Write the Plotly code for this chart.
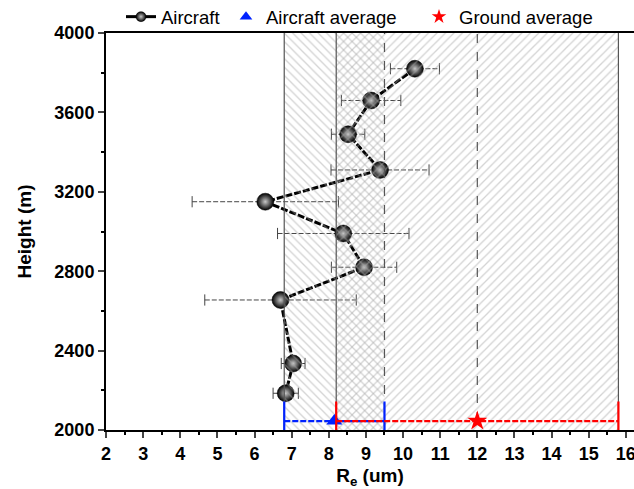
import plotly.graph_objects as go

# ---------------- data ----------------
height = [3820, 3660, 3490, 3310, 3150, 2990, 2820, 2655, 2335, 2185]
re_air = [10.32, 9.14, 8.52, 9.38, 6.29, 8.39, 8.95, 6.70, 7.04, 6.84]
re_err = [0.66, 0.80, 0.45, 1.32, 1.97, 1.77, 0.88, 2.04, 0.32, 0.34]

air_avg = 8.15
air_sd = 1.35
ground_avg = 12.0
ground_sd = 3.8
avg_height = 2045

x_range = [2, 16.22]
y_range = [2000, 4000]
x_ticks = list(range(2, 17))
y_ticks = [2000, 2400, 2800, 3200, 3600, 4000]

FONT = "Liberation Sans"
GRAY = "#555555"

fig = go.Figure()

# error bars of aircraft profile (dashed, with caps)
ex, ey = [], []
for x, y, e in zip(re_air, height, re_err):
    ex += [x - e, x + e, None]
    ey += [y, y, None]
fig.add_trace(go.Scatter(x=ex, y=ey, mode="lines", showlegend=False,
                         line=dict(color="#444444", width=1, dash="5px,2px"),
                         hoverinfo="skip"))
cx = [x - e for x, e in zip(re_air, re_err)] + [x + e for x, e in zip(re_air, re_err)]
cy = height + height
fig.add_trace(go.Scatter(x=cx, y=cy, mode="markers", showlegend=False,
                         marker=dict(symbol="line-ns", size=8, color="#444444",
                                     line=dict(color="#444444", width=1)),
                         hoverinfo="skip"))

# profile line + sphere markers (radial gradient: gradient.color is the centre colour)
fig.add_trace(go.Scatter(x=re_air, y=height, mode="lines+markers", showlegend=False,
                         line=dict(color="black", width=3, dash="7px,2px"),
                         marker=dict(size=17, color="black",
                                     gradient=dict(type="radial", color="#c8c8c8"),
                                     line=dict(width=0.5, color="black"))))
# legend entry for Aircraft
fig.add_trace(go.Scatter(x=[None], y=[None], mode="lines+markers", name="Aircraft",
                         legend="legend",
                         line=dict(color="black", width=3),
                         marker=dict(size=10, color="black",
                                     gradient=dict(type="radial", color="#c8c8c8"),
                                     line=dict(width=0.5, color="black"))))

# hatched bands
air_lo, air_hi = air_avg - air_sd, air_avg + air_sd
gr_lo, gr_hi = ground_avg - ground_sd, ground_avg + ground_sd
for lo, hi, shp in [(air_lo, air_hi, "\\"), (gr_lo, gr_hi, "/")]:
    fig.add_trace(go.Scatter(x=[lo, hi, hi, lo, lo],
                             y=[y_range[0], y_range[0], y_range[1], y_range[1], y_range[0]],
                             mode="lines", fill="toself", showlegend=False,
                             line=dict(width=0), fillcolor="rgba(0,0,0,0)",
                             fillpattern=dict(shape=shp, size=6, solidity=0.22,
                                              fgcolor="#a8a8a8", bgcolor="rgba(0,0,0,0)"),
                             hoverinfo="skip"))

# band edge lines
for xv, dash in [(air_lo, "solid"), (air_hi, "dash"), (gr_lo, "solid"), (gr_hi, "solid")]:
    fig.add_trace(go.Scatter(x=[xv, xv], y=y_range, mode="lines", showlegend=False,
                             line=dict(color=GRAY, width=1.2, dash=dash), hoverinfo="skip"))
fig.add_trace(go.Scatter(x=[ground_avg, ground_avg], y=[avg_height, y_range[1]], mode="lines",
                         showlegend=False, line=dict(color=GRAY, width=1.2, dash="dash"),
                         hoverinfo="skip"))

# averages
for avg, sd, col, sym, sz, lsz, name, lg in [
        (air_avg, air_sd, "#0022ff", "triangle-up", 14, 11, "Aircraft average", "legend2"),
        (ground_avg, ground_sd, "#ff0000", "star", 15, 11, "Ground average", "legend3")]:
    fig.add_trace(go.Scatter(x=[avg - sd, avg + sd], y=[avg_height, avg_height], mode="lines",
                             showlegend=False, line=dict(color=col, width=2.2, dash="6px,2px"),
                             hoverinfo="skip"))
    fig.add_trace(go.Scatter(x=[avg - sd, avg + sd], y=[avg_height, avg_height], mode="markers",
                             showlegend=False,
                             marker=dict(symbol="line-ns", size=28, color=col,
                                         line=dict(color=col, width=2.2)),
                             hoverinfo="skip"))
    fig.add_trace(go.Scatter(x=[avg], y=[avg_height], mode="markers", showlegend=False,
                             marker=dict(symbol=sym, size=sz, color=col, line=dict(width=0))))
    fig.add_trace(go.Scatter(x=[None], y=[None], mode="markers", name=name, legend=lg,
                             marker=dict(symbol=sym, size=lsz, color=col, line=dict(width=0))))

PW = 634 - 106
leg_common = dict(orientation="h", yanchor="middle", y=1.04, xanchor="left",
                  bgcolor="rgba(0,0,0,0)", font=dict(family=FONT, size=18.5, color="black"))
fig.update_layout(
    width=634, height=489,
    margin=dict(l=106, r=0, t=33, b=59, autoexpand=False),
    plot_bgcolor="white", paper_bgcolor="white",
    legend=dict(x=(121 - 106) / PW, **leg_common),
    legend2=dict(x=(226 - 106) / PW, **leg_common),
    legend3=dict(x=(419 - 106) / PW, **leg_common),
    xaxis=dict(range=x_range, tickvals=x_ticks, ticks="outside", ticklen=6, tickwidth=2,
               showline=True, linewidth=2, linecolor="black", mirror=True,
               showgrid=False, zeroline=False, ticklabeloverflow="allow", automargin=False,
               tickfont=dict(family=FONT, size=18, color="black", weight="bold"),
               minor=dict(dtick=0.5, tick0=2, ticks="outside", ticklen=3, tickwidth=2,
                          tickcolor="black", showgrid=False),
               title=dict(text="R<sub>e</sub> (um)", standoff=14,
                          font=dict(family=FONT, size=19, color="black", weight="bold"))),
    yaxis=dict(range=y_range, tickvals=y_ticks, ticks="outside", ticklen=6, tickwidth=2,
               showline=True, linewidth=2, linecolor="black", mirror=False,
               showgrid=False, zeroline=False, automargin=False,
               tickfont=dict(family=FONT, size=18, color="black", weight="bold"),
               minor=dict(dtick=200, tick0=2000, ticks="outside", ticklen=3, tickwidth=2,
                          tickcolor="black", showgrid=False),
               title=dict(text="Height (m)", standoff=18,
                          font=dict(family=FONT, size=19, color="black", weight="bold"))),
)

fig.write_html("out.html", config={"displayModeBar": False},
               post_script="document.body.style.margin='0';")
